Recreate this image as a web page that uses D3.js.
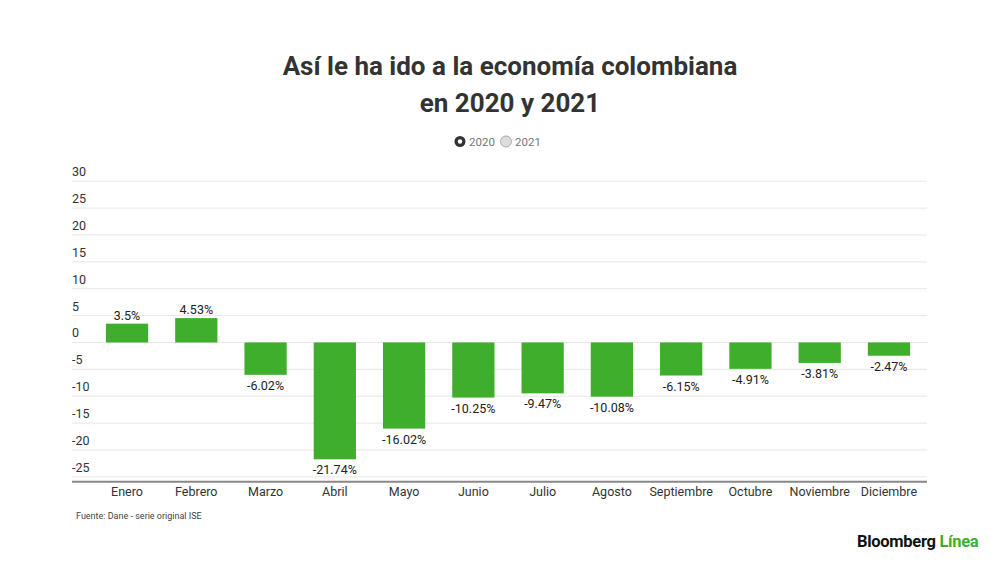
<!DOCTYPE html>
<html><head><meta charset="utf-8">
<script src="https://cdn.jsdelivr.net/npm/d3@7"></script>
<style>
body{margin:0;background:#fff;}
svg{display:block;font-family:Roboto,"Noto Sans",sans-serif;}
</style></head>
<body>
<svg id="c" width="1000" height="562"></svg>
<script>
const months = ["Enero","Febrero","Marzo","Abril","Mayo","Junio","Julio","Agosto","Septiembre","Octubre","Noviembre","Diciembre"];
const values2020 = [3.5,4.53,-6.02,-21.74,-16.02,-10.25,-9.47,-10.08,-6.15,-4.91,-3.81,-2.47];
const yTicks = [30,25,20,15,10,5,0,-5,-10,-15,-20,-25];
const legendItems = ["2020","2021"];

const svg = d3.select("#c");
const x = d3.scaleBand().domain(months).range([92.4, 923.6]).paddingInner(0.39).paddingOuter(0.195);
const y = d3.scaleLinear().domain([-25.9, 30]).range([481.7, 181.2]);

// title
svg.append("text").attr("x",510).attr("y",75).attr("text-anchor","middle")
  .attr("font-size",26).attr("font-weight",700).attr("fill","#333").text("Así le ha ido a la economía colombiana");
svg.append("text").attr("x",510).attr("y",112).attr("text-anchor","middle")
  .attr("font-size",26).attr("font-weight",700).attr("fill","#333").text("en 2020 y 2021");

// legend
const lg = svg.append("g");
const lx = [460, 506];
legendItems.forEach((d,i)=>{
  if(i===0){
    lg.append("circle").attr("cx",lx[i]).attr("cy",141.5).attr("r",5.5).attr("fill","#333");
    lg.append("circle").attr("cx",lx[i]).attr("cy",141.5).attr("r",2.2).attr("fill","#fff");
  } else {
    lg.append("circle").attr("cx",lx[i]).attr("cy",141.5).attr("r",5.5).attr("fill","#ddd").attr("stroke","#aaa").attr("stroke-width",1);
  }
  lg.append("text").attr("x",lx[i]+9).attr("y",145.5).attr("font-size",11.5).attr("fill","#777").text(d);
});

// grid
svg.append("g").selectAll("line").data(yTicks).join("line")
  .attr("x1",72).attr("x2",927).attr("y1",d=>y(d)).attr("y2",d=>y(d))
  .attr("stroke","#e6e6e6").attr("stroke-width",1);
svg.append("g").selectAll("text").data(yTicks).join("text")
  .attr("x",72).attr("y",d=>y(d)-5).attr("font-size",12.5).attr("fill","#333").text(d=>d);

// baseline axis
svg.append("line").attr("x1",72).attr("x2",927).attr("y1",481.7).attr("y2",481.7)
  .attr("stroke","#888").attr("stroke-width",2);

// bars
svg.append("g").selectAll("rect").data(values2020).join("rect")
  .attr("x",(d,i)=>x(months[i])).attr("width",x.bandwidth())
  .attr("y",d=>y(Math.max(0,d))).attr("height",d=>Math.abs(y(d)-y(0)))
  .attr("fill","#3fae2c");

// value labels
svg.append("g").selectAll("text").data(values2020).join("text")
  .attr("x",(d,i)=>x(months[i])+x.bandwidth()/2)
  .attr("y",d=>d>=0 ? y(d)-4 : y(d)+15)
  .attr("text-anchor","middle").attr("font-size",12.5).attr("fill","#222")
  .text(d=>d+"%");

// x labels
svg.append("g").selectAll("text").data(months).join("text")
  .attr("x",d=>x(d)+x.bandwidth()/2).attr("y",496)
  .attr("text-anchor","middle").attr("font-size",12.5).attr("fill","#333").text(d=>d);

// footer
svg.append("text").attr("x",76).attr("y",519).attr("font-size",9).attr("fill","#444").text("Fuente: Dane - serie original ISE");
const logo = svg.append("text").attr("x",857).attr("y",547).attr("font-size",16.5).attr("font-weight",700).attr("letter-spacing",-0.3);
logo.append("tspan").attr("fill","#111").text("Bloomberg ");
logo.append("tspan").attr("fill","#3fae2c").text("Línea");
</script>
</body></html>
